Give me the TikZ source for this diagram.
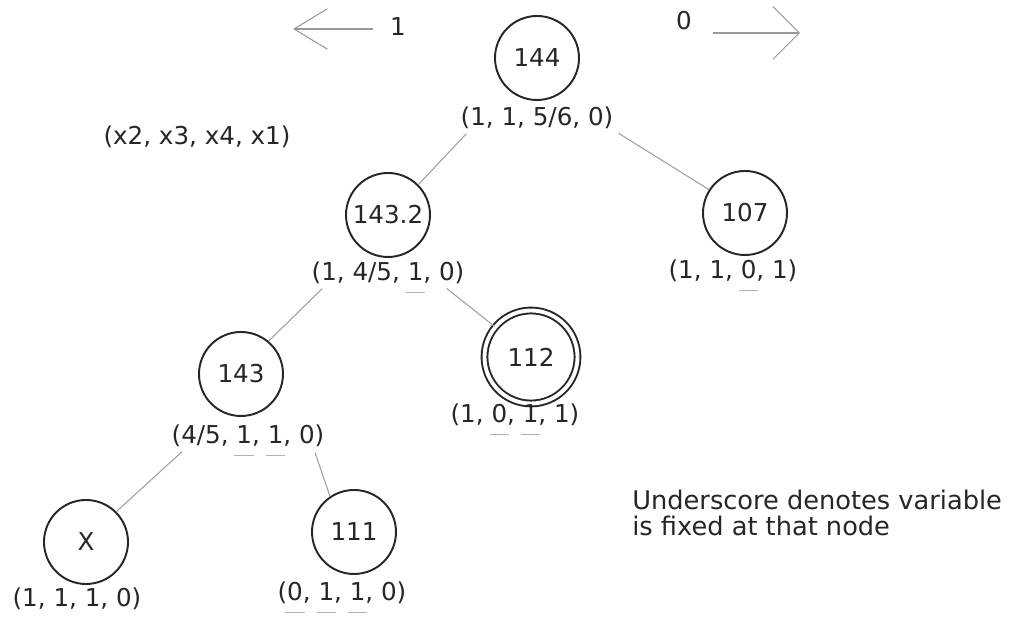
\documentclass[tikz,border=0pt]{standalone}
\usepackage{fontspec}
\setmainfont{DejaVu Sans}
\usetikzlibrary{positioning, arrows.meta}
\newcommand{\fixedvar}[1]{\ooalign{#1\cr\hidewidth\color{gray!60}\rule[-7pt]{0.8em}{0.7pt}\hidewidth\cr}}

\begin{document}
\begin{tikzpicture}[
		font=\fontsize{14pt}{13pt}\selectfont, text=black!85,
		vert/.style={draw=black!85, circle, line width=1.1pt, minimum size=1.68cm, inner sep=0pt},
		best/.style={vert, double, double distance=2.2pt, line width=1.1pt, minimum size=1.86cm},
		lab/.style={inner sep=1pt, anchor=base},
		edge/.style={draw=gray!75, line width=0.6pt, shorten <=2pt},
		dir/.style 2 args={draw=gray!80, line width=0.6pt, -{Straight Barb[length=#1, width=#2, line width=0.6pt]}}
		]
		\useasboundingbox (0,0) rectangle (20.2,12.36);
		% tree nodes
		\node[vert] (n144) at (10.74,11.20) {144};
		\node[vert] (n1432) at (7.76,8.06) {143.2};
		\node[vert] (n107) at (14.90,8.10) {107};
		\node[best] (n112) at (10.62,5.22) {112};
		\node[vert] (n143) at (4.82,4.88) {143};
		\node[vert] (nX) at (1.72,1.52) {X};
		\node[vert] (n111) at (7.08,1.72) {111};
		% values below the nodes
		\node[lab, below=1.36cm of n144.center, anchor=base] (l144) {(1, 1, 5/6, 0)};
		\node[lab, below=1.32cm of n1432.center, anchor=base] (l1432) {(1, 4/5, \fixedvar{1}, 0)};
		\node[lab, below=1.32cm of n107.center, anchor=base, xshift=-0.24cm] (l107) {(1, 1, \fixedvar{0}, 1)};
		\node[lab, below=1.32cm of n112.center, anchor=base, xshift=-0.32cm] (l112) {(1, \fixedvar{0}, \fixedvar{1}, 1)};
		\node[lab, below=1.40cm of n143.center, anchor=base, xshift=0.14cm] (l143) {(4/5, \fixedvar{1}, \fixedvar{1}, 0)};
		\node[lab, below=1.30cm of nX.center, anchor=base, xshift=-0.18cm] (lX) {(1, 1, 1, 0)};
		\node[lab, below=1.38cm of n111.center, anchor=base, xshift=-0.24cm] (l111) {(\fixedvar{0}, \fixedvar{1}, \fixedvar{1}, 0)};
		% branches
		\draw[edge] (l144.south west) ++(0.2,0) -- (n1432.45);
		\draw[edge] (l144.south east) -- (n107.147);
		\draw[edge] (l1432.south west) ++(0.3,0) -- (n143.50);
		\draw[edge] (l1432.south east) ++(-0.45,0) -- (n112.140);
		\draw[edge] (l143.south west) ++(0.3,0) -- (nX.45);
		\draw[edge] (l143.south east) ++(-0.25,0) -- (n111.124);
		% branch directions
		\node[lab] (one) at (7.96,11.64) {1};
		\node[lab] (zero) at (13.68,11.76) {0};
		\coordinate (oneStart) at (7.46,11.78);
		\coordinate (oneTip) at (5.86,11.78);
		\coordinate (zeroStart) at (14.26,11.70);
		\coordinate (zeroTip) at (16.00,11.70);
		\draw[dir={19pt}{23pt}] (oneStart) -- (oneTip);
		\draw[dir={15pt}{30pt}] (zeroStart) -- (zeroTip);
		% variable order and note
		\node[lab] (order) at (3.94,9.46) {(x2, x3, x4, x1)};
		\node[anchor=base west, align=left, inner sep=0pt, font=\fontsize{14.6pt}{15pt}\selectfont] (note) at (12.64,1.64) {Underscore denotes variable\\is fixed at that node};
	\end{tikzpicture}
\end{document}
